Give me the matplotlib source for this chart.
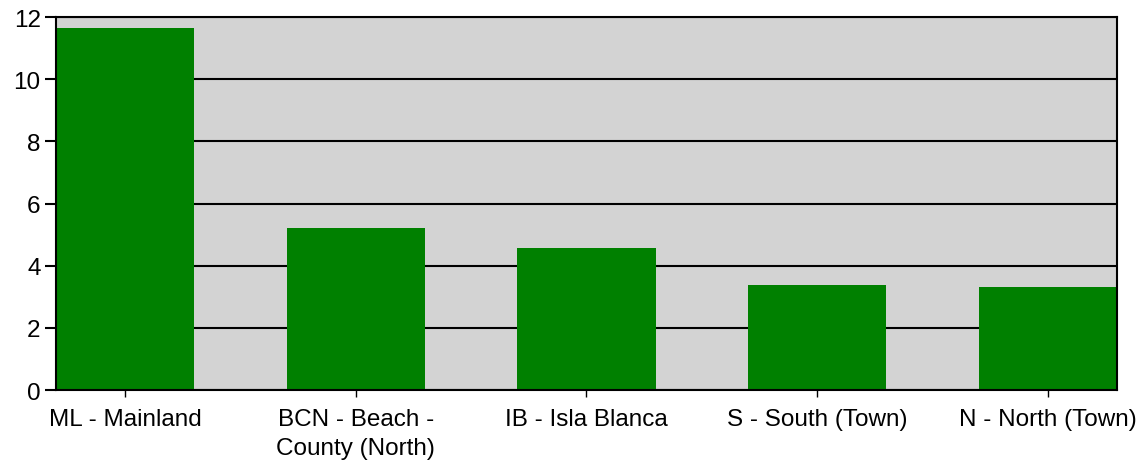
import matplotlib
matplotlib.use("Agg")
import matplotlib.pyplot as plt

categories = ["ML - Mainland", "BCN - Beach -\nCounty (North)", "IB - Isla Blanca",
              "S - South (Town)", "N - North (Town)"]
values = [11.65, 5.22, 4.57, 3.38, 3.32]
yticks = [0, 2, 4, 6, 8, 10, 12]

plt.rcParams['font.family'] = ['Liberation Sans', 'DejaVu Sans']

fig = plt.figure(figsize=(11.45, 4.64), dpi=100)
ax = fig.add_axes([0.0489, 0.1573, 0.9266, 0.8037])
ax.set_facecolor('#d3d3d3')
x = list(range(len(categories)))
ax.bar(x, values, width=0.6, color='#008000', zorder=3)
ax.set_xlim(-0.3, len(categories) - 0.7)
ax.set_ylim(0, 12)
ax.set_yticks(yticks)
ax.set_yticklabels([str(v) for v in yticks], fontsize=17.5)
ax.set_xticks(x)
ax.set_xticklabels(categories, fontsize=17.5, linespacing=1.42)
ax.yaxis.grid(True, color='black', linewidth=1.5, zorder=1)
ax.set_axisbelow(True)
for s in ax.spines.values():
    s.set_linewidth(1.5)
    s.set_zorder(4)
ax.tick_params(axis='y', direction='out', length=8, width=1.5, pad=3)
ax.tick_params(axis='x', direction='out', length=5, width=1, pad=8)
fig.savefig("out.png", dpi=100)
